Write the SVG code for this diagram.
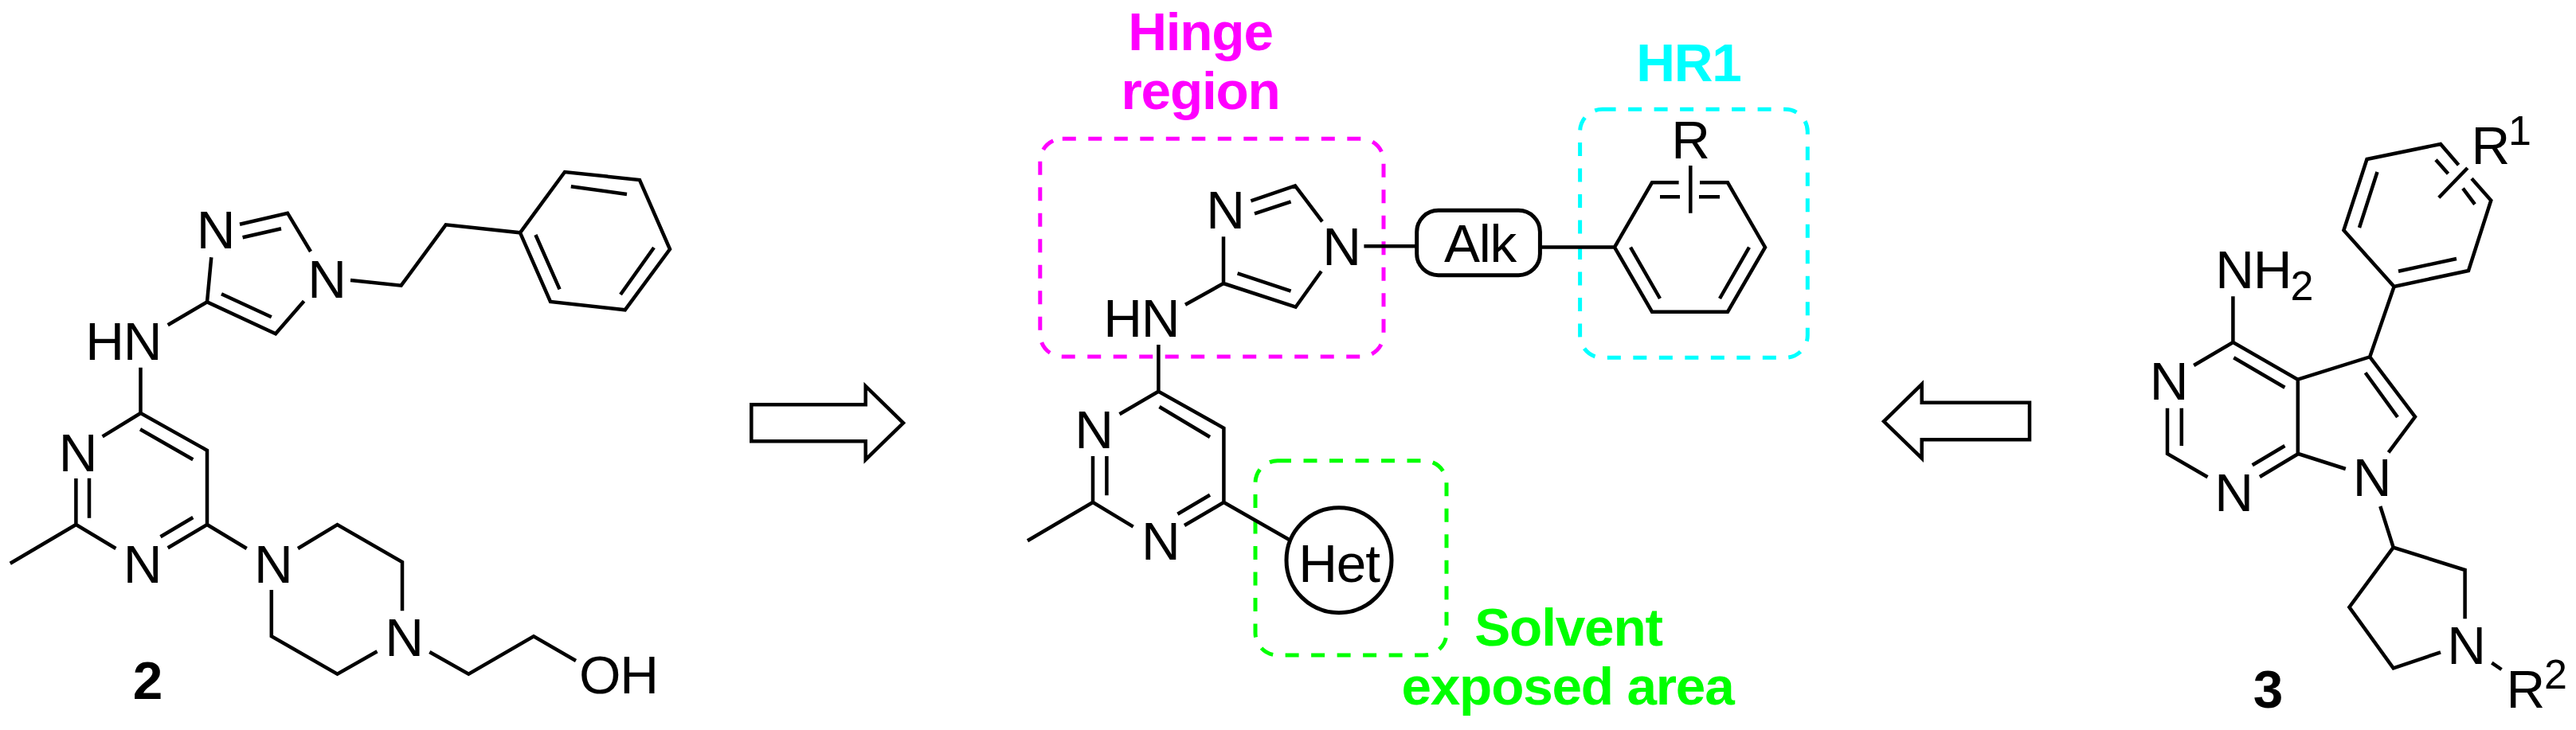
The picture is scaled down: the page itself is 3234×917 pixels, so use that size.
<svg xmlns="http://www.w3.org/2000/svg" width="3234" height="917" viewBox="0 0 3234 917">
<style>
text{font-family:"Liberation Sans",Arial,sans-serif;font-size:67.5px;letter-spacing:-1.2px;fill:#000}
.m{text-anchor:middle}
.b{font-weight:bold}
.s{font-size:52px;letter-spacing:0}
.bond{fill:none;stroke:#000;stroke-width:4.5;stroke-linejoin:miter;stroke-linecap:butt}
.arrow{fill:#fff;stroke:#000;stroke-width:4.5;stroke-linejoin:miter}
.box{fill:none;stroke-width:5;stroke-dasharray:17 15.5}
</style>
<rect width="3234" height="917" fill="#fff"/>
<g id="compound-2">
<path class="bond" d="M301 281.7L361 267.7L390 316M304.6 298.3L353 287.3M440 352L503.6 358.7L559.7 282.3L653 292.3L709 216L803 226L841 313L784.7 389.3L691 379L653 292.3M672.4 295L702.6 363.3M716.8 234.3L787 244M779 370L821 311"/>
<path class="bond" d="M265.3 323.3L260 379.3L346 419.3L381.6 378.3M278 369.3L340.8 398.3M210.7 408.3L260 379.3M176.5 461.7V519L260 565.7V659L210.7 688.3M176 539.3L242.3 577.3M201.5 674.3L242.3 650M128.6 548.3L176.5 519M95.4 601V659L145.4 689M112 600.7V650.7M95.4 659L12.8 707.7M260 659L309.7 689"/>
<path class="bond" d="M374 689L423.5 659L505 706V767.3M340.8 741V799.3L423.5 846.7L473.5 818.3M539.3 819L588.3 846.7L670 799.3L723 830"/>
<text class="m" x="270.4" y="312.3">N</text>
<text class="m" x="410" y="374">N</text>
<text class="m" x="154.7" y="451.7">HN</text>
<text class="m" x="97.5" y="591.7">N</text>
<text class="m" x="178.6" y="731.7">N</text>
<text class="m" x="342.7" y="731.7">N</text>
<text class="m" x="507" y="824.3">N</text>
<text x="727" y="870.5">OH</text>
<text class="m b" x="185" y="878">2</text>
</g>
<g id="arrow-right"><path class="arrow" d="M943.3 508.3H1086.7V485L1134 531.3L1086.7 577.3V554.3H943.3Z"/></g>
<g id="pharmacophore">
<rect id="hinge-box" class="box" x="1305.8" y="174.3" width="431.2" height="273.7" rx="28" stroke="#f0f"/>
<rect id="hr1-box" class="box" x="1983.6" y="137.3" width="285.7" height="312" rx="28" stroke="#0ff"/>
<rect id="solvent-box" class="box" x="1576" y="578.7" width="240" height="244.3" rx="28" stroke="#0f0"/>
<path class="bond" d="M1570.4 252.3L1626 233.3L1660 278.3M1575 268.3L1620.6 253.3M1536 297.3V356L1626.6 385.7L1658.8 340.7M1553.6 343.3L1620.6 365.7M1488 382.7L1536 356M1712.4 309.3H1777.4M1934.8 310.5H2027L2074 229.3H2107.6M2134 229.3H2169L2216 310.7L2169 391.7H2074L2027 310.7M2084 247.3H2109M2133 247.3H2159M2122.3 208V267.7M2047 310.7L2084 375M2196 310.7L2159 375"/>
<path class="bond" d="M1454.4 433V491.7L1536.4 537.7V631L1487 660M1455.5 511L1519 549M1478.4 645.7L1519 621.7M1405.5 520.3L1454.3 491.7M1372 573V631L1422.7 661.7M1389.4 573V622.3M1372 631L1290 679.3M1536.4 631L1619 678.3"/>
<g id="alk"><rect x="1778.7" y="264.3" width="154.7" height="81.4" rx="27" fill="#fff" stroke="#000" stroke-width="5"/><text class="m" x="1858" y="329.3">Alk</text></g>
<g id="het"><circle cx="1681" cy="703.7" r="66" fill="#fff" stroke="#000" stroke-width="5"/><text class="m" x="1681" y="731">Het</text></g>
<text class="m" x="1538" y="287.3">N</text>
<text class="m" x="1684" y="333">N</text>
<text class="m" x="1432.7" y="423.3">HN</text>
<text class="m" x="1373" y="563.3">N</text>
<text class="m" x="1456.8" y="702.7">N</text>
<text class="m" x="2122" y="199">R</text>
<text class="m b" x="1507" y="63" style="fill:#f0f">Hinge</text>
<text class="m b" x="1507" y="137" style="fill:#f0f">region</text>
<text class="m b" x="2120" y="101.7" style="fill:#0ff">HR1</text>
<text class="m b" x="1969" y="811" style="fill:#0f0">Solvent</text>
<text class="m b" x="1968" y="885" style="fill:#0f0">exposed area</text>
</g>
<g id="arrow-left"><path class="arrow" d="M2548 505.7H2412.7V482.7L2365 529.3L2412.7 575.7V552.3H2548Z"/></g>
<g id="compound-3">
<path class="bond" d="M3086.6 207.3L3064 181L2971.5 200L2942.4 289.3L3005.6 360L3099 340L3127.3 251.7L3103 224.3M3058 200.7L3073.5 218.3M3092 236.7L3107 256.7M3097.8 211L3061.8 248.3M2984.5 216L2962 286M3011 340.7L3084 325"/>
<path class="bond" d="M2803.4 372.3V430L2884.8 476.7V570M2754.2 459L2803.4 430M2804.3 449.3L2868.4 486.7M2884.8 476.7L2975.2 448.3L3005.6 360M2975.2 448.3L3032 523.6L2998.6 568.3M2969.6 468.3L3010 524M2885.3 570L2944.8 589M2721 512.7V570L2771.5 599.3M2738.8 512.7V560M2837 599L2885.3 570M2827.7 584.3L2868.4 560M2988.3 636L3004.7 687.7L3094.6 716V777.3M3004.7 687.7L2949.4 762.7L3004.7 839.3L3064 819.3M3128.3 832.7L3140.5 841"/>
<text class="m" x="2722.4" y="501.7">N</text>
<text class="m" x="2804" y="641.7">N</text>
<text class="m" x="2977.6" y="623.3">N</text>
<text class="m" x="3096" y="834.3">N</text>
<text class="m" x="2828.8" y="361.7">NH</text>
<text class="s" x="2875.5" y="376.7">2</text>
<text x="3102.5" y="206">R</text>
<text class="s" x="3149" y="181.7">1</text>
<text x="3146.5" y="889">R</text>
<text class="s" x="3194" y="865">2</text>
<text class="m b" x="2847" y="889">3</text>
</g>
</svg>
